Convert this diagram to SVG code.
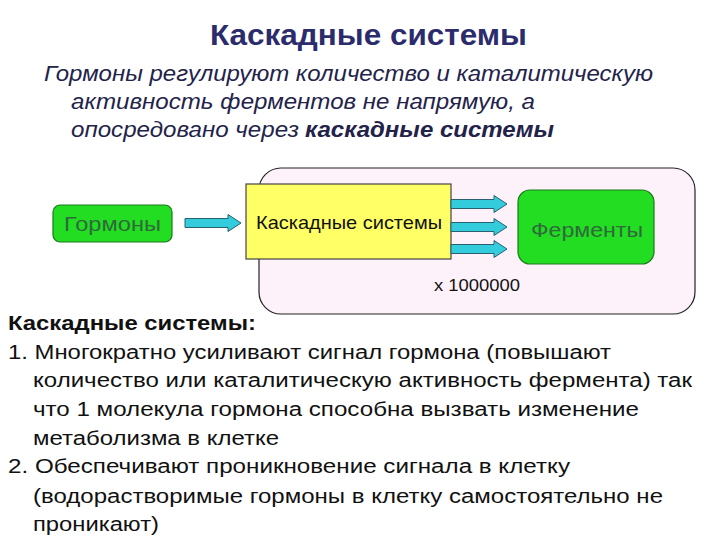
<svg xmlns="http://www.w3.org/2000/svg" width="720" height="540" viewBox="0 0 720 540">
<defs>
<style>
.t{font-family:"Liberation Sans",Arial,sans-serif}
.title{font-size:30px;font-weight:bold;fill:#2c2c6c}
.sub{font-size:22px;font-style:italic;fill:#23234a}
.lst{font-size:20px;fill:#111}
.gbox{fill:#22dd22;stroke:#1c7a1c;stroke-width:1.2}
.gtx{font-size:21px;fill:#2f6a3a}
.arr{fill:#33ccdd;stroke:#2a6070;stroke-width:1}
</style>
<path id="ar" d="M0,-4.5 H43 V-8.5 L56,0 L43,8.5 V4.5 H0 Z"/>
</defs>
<rect width="720" height="540" fill="#fff"/>
<text class="t title" x="210" y="45" textLength="317" lengthAdjust="spacingAndGlyphs">Каскадные системы</text>
<g id="subtitle">
<text class="t sub" x="44" y="81" textLength="609" lengthAdjust="spacingAndGlyphs">Гормоны регулируют количество и каталитическую</text>
<text class="t sub" x="71" y="109" textLength="464" lengthAdjust="spacingAndGlyphs">активность ферментов не напрямую, а</text>
<text class="t sub" y="137"><tspan x="71" textLength="228" lengthAdjust="spacingAndGlyphs">опосредовано через</tspan><tspan x="305" font-weight="bold" textLength="249" lengthAdjust="spacingAndGlyphs">каскадные системы</tspan></text>
</g>
<g id="cell">
<rect x="259" y="168" width="436" height="146" rx="22" fill="#fdf1fa" stroke="#222" stroke-width="1.2"/>
<text class="t" x="434" y="291" font-size="16" fill="#111" textLength="86" lengthAdjust="spacingAndGlyphs">x 1000000</text>
</g>
<g id="hormones">
<rect class="gbox" x="53" y="205" width="119" height="37" rx="7"/>
<text class="t gtx" x="112.5" y="231" text-anchor="middle" textLength="97" lengthAdjust="spacingAndGlyphs">Гормоны</text>
</g>
<g id="cascade">
<rect x="246" y="184" width="205" height="75" fill="#ffff66" stroke="#444" stroke-width="1.2"/>
<text class="t" x="349" y="229" font-size="19" fill="#111" text-anchor="middle" textLength="186" lengthAdjust="spacingAndGlyphs">Каскадные системы</text>
</g>
<g id="enzymes">
<rect class="gbox" x="518" y="190" width="136" height="74" rx="12"/>
<text class="t gtx" x="587" y="237" text-anchor="middle" textLength="112" lengthAdjust="spacingAndGlyphs">Ферменты</text>
</g>
<g id="connectors">
<use href="#ar" class="arr" transform="translate(185,223)"/>
<use href="#ar" class="arr" transform="translate(451,204)"/>
<use href="#ar" class="arr" transform="translate(451,227)"/>
<use href="#ar" class="arr" transform="translate(451,249)"/>
</g>
<g id="list">
<text class="t lst" x="8" y="330" font-weight="bold" textLength="248" lengthAdjust="spacingAndGlyphs">Каскадные системы:</text>
<text class="t lst" x="8" y="359" textLength="603" lengthAdjust="spacingAndGlyphs">1. Многократно усиливают сигнал гормона (повышают</text>
<text class="t lst" x="33" y="387" textLength="659" lengthAdjust="spacingAndGlyphs">количество или каталитическую активность фермента) так</text>
<text class="t lst" x="33" y="416" textLength="606" lengthAdjust="spacingAndGlyphs">что 1 молекула гормона способна вызвать изменение</text>
<text class="t lst" x="33" y="445" textLength="246" lengthAdjust="spacingAndGlyphs">метаболизма в клетке</text>
<text class="t lst" x="8" y="473" textLength="562" lengthAdjust="spacingAndGlyphs">2. Обеспечивают проникновение сигнала в клетку</text>
<text class="t lst" x="33" y="503" textLength="630" lengthAdjust="spacingAndGlyphs">(водорастворимые гормоны в клетку самостоятельно не</text>
<text class="t lst" x="33" y="531" textLength="126" lengthAdjust="spacingAndGlyphs">проникают)</text>
</g>
</svg>
